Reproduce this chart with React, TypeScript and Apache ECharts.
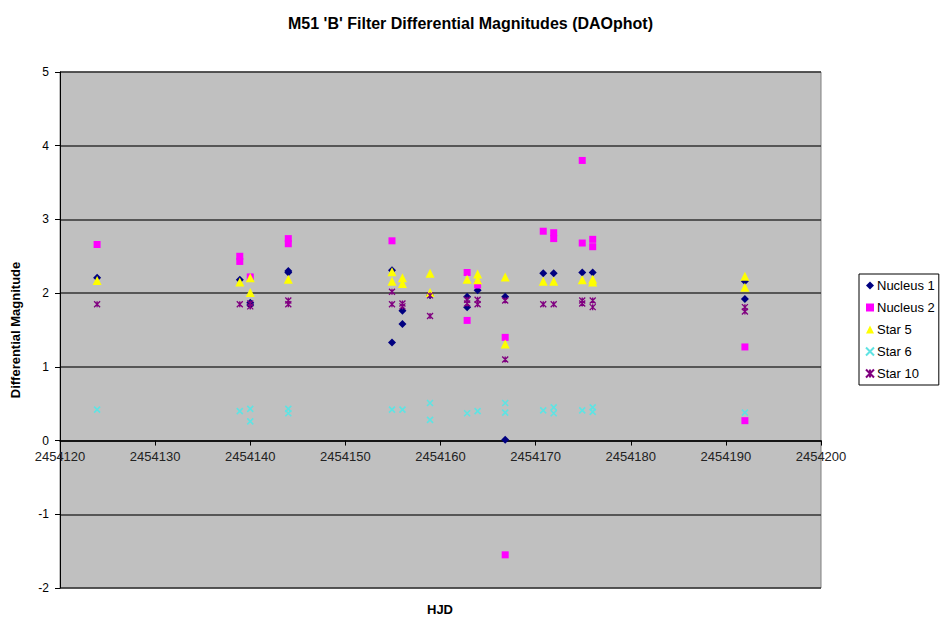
import React, { useEffect, useRef } from "react";
import * as echarts from "echarts";

const TITLE = "M51 'B' Filter Differential Magnitudes (DAOphot)";
const SERIES_NAMES = ["Nucleus 1", "Nucleus 2", "Star 5", "Star 6", "Star 10"];

const nucleus1: [number, number][] = [
  [2454123.9, 2.21], [2454138.9, 2.18], [2454140.0, 1.87], [2454140.0, 1.84],
  [2454144.0, 2.3], [2454144.0, 2.28], [2454154.9, 2.31], [2454154.9, 1.33],
  [2454156.0, 1.76], [2454156.0, 1.58], [2454158.9, 1.97], [2454162.8, 1.95],
  [2454162.8, 1.81], [2454163.9, 2.04], [2454166.8, 1.95], [2454166.8, 0.01],
  [2454170.8, 2.27], [2454171.9, 2.27], [2454174.9, 2.28], [2454176.0, 2.28],
  [2454192.0, 2.16], [2454192.0, 1.92],
];
const nucleus2: [number, number][] = [
  [2454123.9, 2.66], [2454138.9, 2.5], [2454138.9, 2.43], [2454140.0, 2.22],
  [2454144.0, 2.74], [2454144.0, 2.67], [2454154.9, 2.71], [2454162.8, 2.28],
  [2454162.8, 1.63], [2454163.9, 2.11], [2454166.8, 1.4], [2454166.8, -1.55],
  [2454170.8, 2.84], [2454171.9, 2.82], [2454171.9, 2.74], [2454174.9, 3.8],
  [2454174.9, 2.68], [2454176.0, 2.73], [2454176.0, 2.63], [2454192.0, 1.27],
  [2454192.0, 0.27],
];
const star5: [number, number][] = [
  [2454123.9, 2.17], [2454138.9, 2.15], [2454140.0, 2.21], [2454140.0, 2.01],
  [2454144.0, 2.19], [2454154.9, 2.29], [2454154.9, 2.16], [2454156.0, 2.21],
  [2454156.0, 2.13], [2454158.9, 2.27], [2454158.9, 2.01], [2454162.8, 2.19],
  [2454163.9, 2.26], [2454163.9, 2.18], [2454166.8, 2.22], [2454166.8, 1.31],
  [2454170.8, 2.16], [2454171.9, 2.16], [2454174.9, 2.18], [2454176.0, 2.19],
  [2454176.0, 2.15], [2454192.0, 2.23], [2454192.0, 2.08],
];
const star6: [number, number][] = [
  [2454123.9, 0.42], [2454138.9, 0.4], [2454140.0, 0.43], [2454140.0, 0.26],
  [2454144.0, 0.43], [2454144.0, 0.37], [2454154.9, 0.42], [2454156.0, 0.42],
  [2454158.9, 0.51], [2454158.9, 0.28], [2454162.8, 0.37], [2454163.9, 0.4],
  [2454166.8, 0.51], [2454166.8, 0.38], [2454170.8, 0.41], [2454171.9, 0.45],
  [2454171.9, 0.37], [2454174.9, 0.41], [2454176.0, 0.45], [2454176.0, 0.39],
  [2454192.0, 0.38],
];
const star10: [number, number][] = [
  [2454123.9, 1.85], [2454138.9, 1.85], [2454140.0, 1.86], [2454140.0, 1.82],
  [2454144.0, 1.9], [2454144.0, 1.85], [2454154.9, 2.02], [2454154.9, 1.85],
  [2454156.0, 1.86], [2454156.0, 1.82], [2454158.9, 1.97], [2454158.9, 1.69],
  [2454162.8, 1.91], [2454162.8, 1.86], [2454163.9, 1.91], [2454163.9, 1.85],
  [2454166.8, 1.9], [2454166.8, 1.1], [2454170.8, 1.85], [2454171.9, 1.85],
  [2454174.9, 1.9], [2454174.9, 1.86], [2454176.0, 1.9], [2454176.0, 1.81],
  [2454192.0, 1.81], [2454192.0, 1.75],
];

const FONT = "Arial, 'Liberation Sans', sans-serif";
const Y_MIN = -2;
const Y_MAX = 5;
const GRID_TOP = 72;
const GRID_HEIGHT = 516;

export default function App() {
  const ref = useRef<HTMLDivElement>(null);
  useEffect(() => {
    if (!ref.current) return;
    const chart = echarts.init(ref.current, null, { renderer: "svg" });
    const xSym = "path://M0,0L10,10M10,0L0,10";
    const starSym = "path://M0,0L10,10M10,0L0,10M5,0L5,10";
    const datas = [nucleus1, nucleus2, star5, star6, star10];
    const styles = [
      { symbol: "diamond", size: 8, color: "#000080", border: 0 },
      { symbol: "rect", size: 7, color: "#FF00FF", border: 0 },
      { symbol: "triangle", size: 9, color: "#FFFF00", border: 0 },
      { symbol: xSym, size: 6, color: "#5FE3E3", border: 1.6 },
      { symbol: starSym, size: 6, color: "#800080", border: 1.3 },
    ];
    // x axis sits at y = 0: shift it up from the grid bottom by the zero's distance
    const zeroOffset = -(GRID_HEIGHT * (0 - Y_MIN)) / (Y_MAX - Y_MIN);
    chart.setOption({
      animation: false,
      backgroundColor: "#ffffff",
      title: {
        text: TITLE,
        left: "center",
        top: 10,
        textStyle: { fontFamily: FONT, fontSize: 16, fontWeight: "bold", color: "#000" },
      },
      legend: {
        orient: "vertical",
        left: 859,
        top: 274,
        backgroundColor: "#ffffff",
        borderColor: "#000000",
        borderWidth: 1,
        borderRadius: 0,
        padding: [5, 4, 5, 6],
        itemGap: 9,
        itemWidth: 8,
        itemHeight: 8,
        textStyle: { fontFamily: FONT, fontSize: 13, color: "#000", padding: [0, 0, 0, -2] },
        data: SERIES_NAMES,
      },
      grid: {
        left: 60,
        top: GRID_TOP,
        width: 761,
        height: GRID_HEIGHT,
        show: true,
        backgroundColor: "#C0C0C0",
        borderColor: "#808080",
        borderWidth: 1,
        containLabel: false,
      },
      xAxis: {
        type: "value",
        min: 2454120,
        max: 2454200,
        interval: 10,
        position: "bottom",
        offset: zeroOffset,
        axisLine: { show: true, onZero: false, lineStyle: { color: "#000", width: 1.5 } },
        axisTick: { show: true, inside: false, length: 5, lineStyle: { color: "#000" } },
        axisLabel: {
          fontFamily: FONT,
          fontSize: 13,
          color: "#222",
          margin: 9,
          formatter: (v: number) => String(v),
        },
        splitLine: { show: false },
      },
      yAxis: {
        type: "value",
        min: Y_MIN,
        max: Y_MAX,
        interval: 1,
        name: "Differential Magnitude",
        nameLocation: "middle",
        nameGap: 38,
        nameTextStyle: { fontFamily: FONT, fontSize: 13, fontWeight: "bold", color: "#000" },
        axisLine: { show: true, onZero: false, lineStyle: { color: "#000", width: 1 } },
        axisTick: { show: true, inside: false, length: 5, lineStyle: { color: "#000" } },
        axisLabel: { fontFamily: FONT, fontSize: 12, color: "#000", margin: 11 },
        splitLine: { show: true, lineStyle: { color: "#333333", width: 1.5 } },
      },
      graphic: [
        {
          type: "text",
          left: 427,
          top: 603,
          style: { text: "HJD", font: `bold 13px ${FONT}`, fill: "#000" },
        },
      ],
      series: SERIES_NAMES.map((name, i) => ({
        name,
        type: "scatter",
        data: datas[i],
        symbol: styles[i].symbol,
        symbolSize: styles[i].size,
        itemStyle: {
          color: styles[i].color,
          borderColor: styles[i].color,
          borderWidth: styles[i].border,
          opacity: 1,
        },
        z: 2 + i,
      })),
    });
    return () => chart.dispose();
  }, []);
  return (
    <div
      ref={ref}
      style={{ position: "fixed", left: 0, top: 0, width: 941, height: 620 }}
    />
  );
}
